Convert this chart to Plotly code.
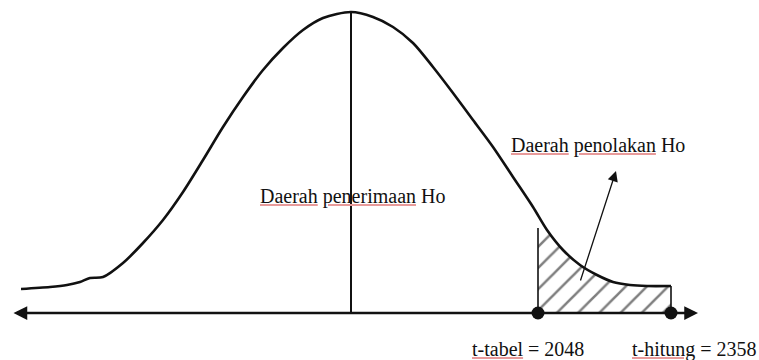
import plotly.graph_objects as go

# Curve: x position, height above the horizontal axis
curve_x = [21, 50, 67, 80, 90, 103, 123, 143, 163, 183, 203, 223, 243, 263, 283, 303, 323, 351,
           373, 393, 413, 433, 453, 473, 493, 513, 533, 547, 563, 580, 597, 613, 630, 647, 671]
curve_y = [24, 26, 28, 31, 35, 36, 50, 70, 93, 121, 153, 186, 216, 243, 265, 283, 295, 301,
           296, 286, 270, 246, 220, 193, 166, 136, 106, 83, 63, 48, 38, 31, 28, 27, 27]

# Critical points on the axis
crit_x = [538, 671]
crit_names = ["t-tabel", "t-hitung"]
crit_values = ["2048", "2358"]
crit_label_x = [528, 694]

peak_x = 351
peak_y = 301
reject_top = 85  # top of the left edge of the rejection region

FONT = "Liberation Serif"
INK = "#111111"
SQUIGGLE = "#e89a9a"

fig = go.Figure()

# Hatched rejection region, built from the curve points right of t-tabel
tail_x = [x for x in curve_x if x > crit_x[0]]
tail_y = [y for x, y in zip(curve_x, curve_y) if x > crit_x[0]]
fig.add_trace(go.Scatter(
    x=[crit_x[0], crit_x[0]] + tail_x + [crit_x[1], crit_x[0]],
    y=[0, reject_top] + tail_y + [0, 0],
    mode="lines", fill="toself",
    fillcolor="white",
    fillpattern=dict(shape="/", fgcolor="black", bgcolor="white", size=15, solidity=0.17),
    line=dict(width=0),
    hoverinfo="skip"
))

# Edges of the rejection region
fig.add_trace(go.Scatter(
    x=[crit_x[0], crit_x[0], None, crit_x[1], crit_x[1]],
    y=[0, reject_top, None, 0, curve_y[-1]],
    mode="lines", line=dict(color=INK, width=1.6), hoverinfo="skip"
))

# Main curve
fig.add_trace(go.Scatter(
    x=curve_x, y=curve_y, mode="lines",
    line=dict(color=INK, width=2.6, shape="spline", smoothing=0.8),
    hoverinfo="skip"
))

# Vertical line through the peak
fig.add_trace(go.Scatter(
    x=[peak_x, peak_x], y=[0, peak_y], mode="lines",
    line=dict(color=INK, width=2), hoverinfo="skip"
))

# Horizontal axis with arrowheads on both ends
fig.add_annotation(
    x=698, y=0, ax=12, ay=0,
    xref="x", yref="y", axref="x", ayref="y",
    text="", showarrow=True, arrowhead=2, startarrowhead=2,
    arrowside="end+start", arrowsize=1.1, startarrowsize=1.1,
    arrowwidth=2.5, arrowcolor=INK
)

# Dots at t-tabel and t-hitung
fig.add_trace(go.Scatter(
    x=crit_x, y=[0, 0], mode="markers",
    marker=dict(color=INK, size=13), hoverinfo="skip"
))

# Pointer from the rejection region to its label
fig.add_annotation(
    x=616, y=142, ax=580, ay=31,
    xref="x", yref="y", axref="x", ayref="y",
    text="", showarrow=True, arrowhead=2, arrowsize=1.6,
    arrowwidth=1.3, arrowcolor=INK
)


def sq(word):
    # word with a light red underline like a spell-check mark
    return (f"<span style='color:{SQUIGGLE};text-decoration:underline'>"
            f"<span style='color:{INK}'>{word}</span></span>")


def add_label(text, x, y):
    fig.add_annotation(x=x, y=y, text=text, showarrow=False,
                       font=dict(family=FONT, size=20, color=INK))


add_label(f"{sq('Daerah')} {sq('penerimaan')} Ho", 352, 117)
add_label(f"{sq('Daerah')} {sq('penolakan')} Ho", 598, 168)
for name, val, lx in zip(crit_names, crit_values, crit_label_x):
    add_label(f"{sq(name)} = {val}", lx, -36)

fig.update_layout(
    width=759, height=360, autosize=False,
    margin=dict(l=0, r=0, t=0, b=0),
    showlegend=False,
    plot_bgcolor="white", paper_bgcolor="white",
    xaxis=dict(visible=False, range=[0, 759], fixedrange=True),
    yaxis=dict(visible=False, range=[-47, 313], fixedrange=True),
)

fig.write_html("out.html", config={"displayModeBar": False},
               post_script="document.body.style.margin='0';document.body.style.overflow='hidden';")
